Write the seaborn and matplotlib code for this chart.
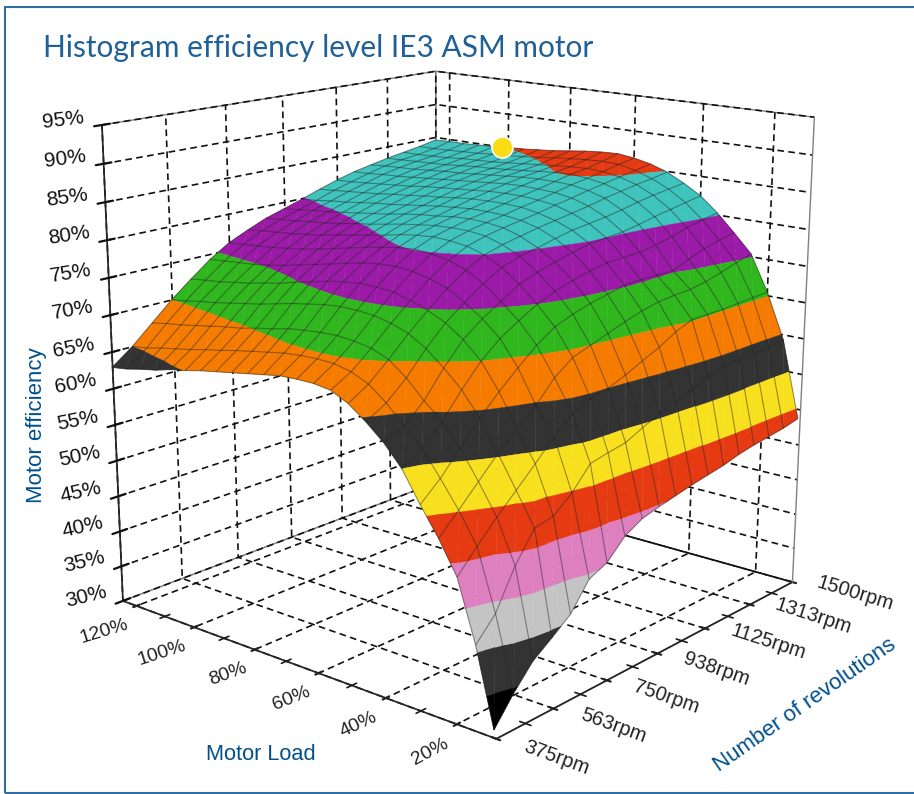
import numpy as np, matplotlib
matplotlib.use('Agg')
import matplotlib.pyplot as plt
import seaborn as sns
from mpl_toolkits.mplot3d.art3d import Poly3DCollection
from matplotlib.patches import Rectangle

rpm_nodes = [375,437.5,500,562.5,625,687.5,750,812.5,875,937.5,1000,1062.5,1125,1187.5,1250,1312.5,1375,1437.5,1500]
load_nodes = [10,15,20,25,30,35,40,45,50,55,60,65,70,75,80,85,90,95,100,105,110,115,120,125]
eff_10 = [31.0,34.4,37.3,39.1,41.0,44.4,45.5,47.9,49.2,49.8,50.3,50.8,51.2,51.6,52.2,52.6,52.9,53.2,53.7]
eff_15 = [40.9,43.7,48.6,52.3,52.8,54.8,57.6,58.1,58.5,59.6,60.6,61.3,62.2,63.2,63.8,63.9,63.9,64.0,64.3]
eff_20 = [48.6,51.4,54.0,56.4,58.8,61.3,63.4,64.5,65.0,65.9,67.0,68.0,69.3,70.2,70.2,70.2,70.3,70.4,70.5]
eff_25 = [52.7,55.2,57.8,60.4,62.6,64.7,67.4,69.2,70.0,70.8,71.6,72.3,72.8,73.0,73.1,73.5,74.1,74.8,75.4]
eff_30 = [56.2,58.5,61.3,64.2,66.7,68.9,71.0,72.6,73.5,74.2,74.7,75.2,75.3,75.2,75.2,76.1,76.9,77.5,77.9]
eff_35 = [60.0,61.6,64.1,67.2,70.0,72.1,73.6,75.0,76.0,76.7,77.3,77.7,77.8,77.9,78.2,78.8,79.4,79.9,80.3]
eff_40 = [62.6,63.8,66.1,69.4,72.2,74.1,75.6,77.1,78.0,78.7,79.3,79.8,80.0,80.2,80.6,81.1,81.5,81.9,82.3]
eff_45 = [64.6,66.1,68.4,71.3,73.8,75.7,77.4,78.8,79.6,80.1,80.7,81.2,81.5,81.8,82.2,82.7,83.1,83.4,83.7]
eff_50 = [66.3,67.9,70.2,72.7,74.9,77.0,78.7,80.0,80.7,81.2,81.7,82.1,82.5,82.9,83.4,83.8,84.2,84.5,84.9]
eff_55 = [67.4,68.9,71.1,73.5,75.7,77.8,79.5,80.7,81.4,81.9,82.3,82.7,83.2,83.6,84.1,84.5,84.9,85.3,85.7]
eff_60 = [67.7,69.4,71.5,74.0,76.3,78.3,79.9,81.0,81.7,82.2,82.6,83.1,83.5,84.0,84.5,84.9,85.3,85.8,86.2]
eff_65 = [67.7,69.5,71.7,74.2,76.5,78.5,80.1,81.1,81.7,82.3,82.7,83.2,83.7,84.1,84.6,85.1,85.4,85.9,86.5]
eff_70 = [67.6,69.4,71.6,74.2,76.5,78.4,79.9,80.9,81.6,82.2,82.7,83.2,83.7,84.2,84.6,85.0,85.3,85.8,86.4]
eff_75 = [67.2,69.2,71.4,74.0,76.3,78.1,79.5,80.6,81.3,81.9,82.5,83.1,83.6,84.1,84.5,84.8,85.1,85.6,86.2]
eff_80 = [66.8,68.8,71.1,73.6,75.9,77.6,79.1,80.1,81.0,81.7,82.3,82.9,83.4,83.9,84.3,84.6,84.9,85.4,85.9]
eff_85 = [66.4,68.4,70.6,73.2,75.4,77.1,78.6,79.7,80.6,81.4,82.0,82.6,83.2,83.7,84.1,84.4,84.7,85.1,85.6]
eff_90 = [66.0,68.0,70.2,72.7,74.9,76.6,78.1,79.3,80.2,81.0,81.7,82.4,83.0,83.5,83.9,84.2,84.5,84.9,85.4]
eff_95 = [65.6,67.5,69.7,72.2,74.3,76.1,77.6,78.9,79.9,80.7,81.4,82.1,82.8,83.3,83.7,84.1,84.3,84.7,85.2]
eff_100 = [65.1,67.1,69.4,71.8,73.9,75.6,77.2,78.5,79.5,80.4,81.2,81.9,82.5,83.1,83.6,83.9,84.2,84.6,85.1]
eff_105 = [64.7,66.6,69.0,71.4,73.4,75.2,76.9,78.2,79.2,80.1,80.9,81.6,82.3,82.9,83.4,83.7,84.1,84.4,84.9]
eff_110 = [64.1,66.2,68.6,71.0,73.1,74.9,76.6,77.9,79.0,79.8,80.6,81.4,82.1,82.7,83.2,83.6,83.9,84.3,84.8]
eff_115 = [63.7,65.8,68.2,70.7,72.7,74.7,76.4,77.7,78.7,79.6,80.4,81.2,81.9,82.6,83.1,83.5,83.8,84.2,84.7]
eff_120 = [63.2,65.3,67.9,70.3,72.5,74.5,76.2,77.5,78.5,79.3,80.1,81.0,81.7,82.4,83.0,83.4,83.7,84.1,84.7]
eff_125 = [62.9,65.0,67.5,70.0,72.2,74.3,76.0,77.2,78.3,79.1,79.9,80.8,81.6,82.3,82.8,83.3,83.7,84.1,84.6]
rpm_ticks = [375,563,750,938,1125,1313,1500]
rpm_minor = [469,656,844,1032,1219,1407]
load_ticks = [20,40,60,80,100,120]
load_minor = [30,50,70,90,110]
eff_ticks = [30,35,40,45,50,55,60,65,70,75,80,85,90,95]
best_rpm, best_load, best_eff = 1500, 102.1, 85.0
band_edges = [30,35,40,45,50,55,60,65,70,75,80,85,90]
band_colors = ['#000000','#333333','#c4c4c4','#de80bf','#e53a12','#f9e01e','#333333','#f57c00','#31b71e','#9c1aa8','#3fc4bd','#e53a12']

eff = np.array([eff_10,eff_15,eff_20,eff_25,eff_30,eff_35,eff_40,eff_45,eff_50,eff_55,eff_60,eff_65,
                eff_70,eff_75,eff_80,eff_85,eff_90,eff_95,eff_100,eff_105,eff_110,eff_115,eff_120,eff_125])

# Camera fitted to the reference's box corners
ELEV,AZIM,ROLL,FOCAL=15.7486,-139.841,-0.1239,float(np.exp(-0.7336))
ASPECT=(1,1.0077,1.001)
YLO,YHI=9.3537,124.8385
S,TX,TY=4445.862,462.264,-363.511

sns.set_theme(style='white',rc={'font.family':['Liberation Sans','DejaVu Sans']})
fig=plt.figure(figsize=(9.14,7.94),dpi=100)
W=S*0.185
ax=fig.add_axes([(TX-S*0.095)/914,(794-(S*0.095-TY))/794,W/914,W/794],projection='3d',computed_zorder=False)
ax.set_xlim(375,1500,view_margin=0);ax.set_ylim(YLO,YHI,view_margin=0);ax.set_zlim(30,95,view_margin=0)
ax.view_init(ELEV,AZIM,ROLL);ax.set_proj_type('persp',focal_length=FOCAL);ax.set_box_aspect(ASPECT)

RR,LL=np.meshgrid(rpm_nodes,load_nodes)
COL=sns.color_palette(band_colors)
def clip(poly,lev,above):
    out=[]
    for i in range(len(poly)):
        a,b=poly[i],poly[(i+1)%len(poly)]
        ina=(a[2]>=lev) if above else (a[2]<=lev)
        inb=(b[2]>=lev) if above else (b[2]<=lev)
        if ina: out.append(a)
        if ina!=inb:
            t=(lev-a[2])/(b[2]-a[2]);out.append(tuple(a[k]+t*(b[k]-a[k]) for k in range(3)))
    return out
polys=[];fc=[]
for i in range(len(load_nodes)-1):
    for j in range(len(rpm_nodes)-1):
        p=[(rpm_nodes[j+m],load_nodes[i+k],eff[i+k,j+m]) for k,m in [(0,0),(0,1),(1,1),(1,0)]]
        for tri in ([p[0],p[1],p[2]],[p[0],p[2],p[3]]):
            for b in range(len(COL)):
                q=clip(tri,band_edges[b],True)
                if len(q)>=3:q=clip(q,band_edges[b+1],False)
                if len(q)>=3:
                    polys.append(q);fc.append(COL[b])
ax.add_collection3d(Poly3DCollection(polys,facecolors=fc,edgecolors=fc,linewidths=0.3,zorder=3))
ax.plot_wireframe(RR,LL,eff,color='k',alpha=0.45,linewidth=0.8,zorder=4)
ax.scatter([best_rpm],[best_load],[best_eff],s=230,c='#fbdc16',edgecolors='white',linewidths=1.2,depthshade=False,zorder=6)

ax.set_xticks(rpm_ticks,[f'{r}rpm' for r in rpm_ticks]);ax.set_yticks(load_ticks,[f'{l}%' for l in load_ticks]);ax.set_zticks(eff_ticks,[f'{z}%' for z in eff_ticks])
for a in (ax.xaxis,ax.yaxis,ax.zaxis):
    a.set_pane_color((1,1,1,1));a.pane.set_edgecolor('#808080');a.pane.set_linewidth(1)
    a._axinfo['grid'].update(color='#111111',linewidth=1.2,linestyle=(0,(4,2.6)))
    a._axinfo['axisline'].update(color='k',linewidth=2)
    a._axinfo['tick'].update(inward_factor=0.11,outward_factor=0.11,color='k')
    a._axinfo['tick']['linewidth']={True:1.6,False:1.2}
ax.zaxis._axinfo['tick'].update(inward_factor=0.25,outward_factor=0.25)
ax.grid(True)
ax.tick_params(axis='x',labelsize=14.5,pad=10,colors='#222222')
ax.tick_params(axis='y',labelsize=14,pad=-3,colors='#222222')
ax.tick_params(axis='z',labelsize=15,pad=8,colors='#111111')
for t,rot in zip(ax.get_xticklabels(),[-20,-20,-19,-19,-18,-18,-17]):
    t.set_rotation(rot);t.set_ha('left');t.set_va('bottom')
for t,rot in zip(ax.get_yticklabels(),[28,25,22,20,18,17]):
    t.set_rotation(rot);t.set_ha('right');t.set_va('top')
for t,rot in zip(ax.get_zticklabels(),np.linspace(14,7,len(eff_ticks))):
    t.set_rotation(rot);t.set_va('baseline');t.set_rotation_mode('anchor')
for m in rpm_minor:
    ax.plot([m,m],[YLO-1.5,YLO+1.5],[30,30],color='k',lw=1.2,zorder=2)
for m in load_minor:
    ax.plot([375-15,375+15],[m,m],[30,30],color='k',lw=1.2,zorder=2)
ax.plot([1500,1500],[YLO,YLO],[30,95],color='#808080',lw=1,zorder=1)

BLUE='#00508c'
fig.add_artist(Rectangle((5/914,1/794),1,786/794,fill=False,ec='#2f6ea5',lw=1.5,transform=fig.transFigure))
fig.text(43/914,1-57/794,'Histogram efficiency level IE3 ASM motor',color='#1f6098',fontsize=21.5,family=['Lato','Liberation Sans'])
fig.text(37/914,1-425/794,'Motor efficiency',color=BLUE,fontsize=16,rotation=90,ha='center',va='center')
fig.text(261/914,1-755/794,'Motor Load',color=BLUE,fontsize=15.7,ha='center',va='center')
fig.text(805/914,1-705/794,'Number of revolutions',color=BLUE,fontsize=16,rotation=35,ha='center',va='center',rotation_mode='anchor')
fig.savefig('out.png',dpi=100)
